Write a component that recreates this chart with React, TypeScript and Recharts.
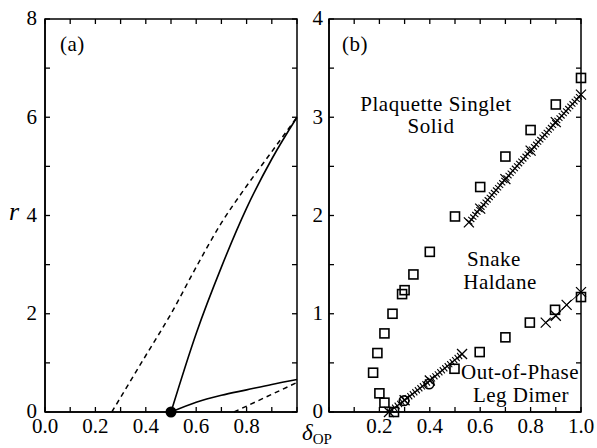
import React from "react";
import { ComposedChart, Line, Scatter, XAxis, YAxis, ReferenceArea } from "recharts";

const FONT = '"Liberation Serif", "Times New Roman", serif';

// ---- panel (a) ----
const aXTicks = [0, 0.1, 0.2, 0.3, 0.4, 0.5, 0.6, 0.7, 0.8, 0.9, 1.0];
const aXLabels = ["0.0", "0.2", "0.4", "0.6", "0.8"];
const aYTicks = [0, 1, 2, 3, 4, 5, 6, 7, 8];
const aYLabels = ["0", "2", "4", "6", "8"];

const aUpperSolidX = [0.5, 0.6, 0.7, 0.8, 0.9, 1.0];
const aUpperSolidY = [0, 1.6, 2.95, 4.15, 5.15, 6.0];
const aUpperDashX = [0.265, 0.4, 0.5, 0.6, 0.7, 0.8, 0.9, 1.0];
const aUpperDashY = [0, 1.15, 2.0, 2.95, 3.85, 4.6, 5.3, 6.0];
const aLowerSolidX = [0.5, 0.6, 0.7, 0.8, 0.9, 1.0];
const aLowerSolidY = [0, 0.2, 0.34, 0.45, 0.56, 0.66];
const aLowerDashX = [0.75, 0.875, 1.0];
const aLowerDashY = [0, 0.3, 0.6];
const aCriticalX = [0.5];
const aCriticalY = [0];

// ---- panel (b) ----
const bXTicks = [0, 0.1, 0.2, 0.3, 0.4, 0.5, 0.6, 0.7, 0.8, 0.9, 1.0];
const bXLabels = ["0.2", "0.4", "0.6", "0.8", "1.0"];
const bYTicks = [0, 0.5, 1, 1.5, 2, 2.5, 3, 3.5, 4];
const bYLabels = ["0", "1", "2", "3", "4"];

const bSquareX = [0.5, 0.4, 0.335, 0.3, 0.29, 0.252, 0.22, 0.192, 0.175, 0.2, 0.22, 0.258,
  0.498, 0.598, 0.7, 0.797, 0.897, 1.0, 0.6, 0.7, 0.8, 0.9, 1.0];
const bSquareY = [1.99, 1.63, 1.4, 1.24, 1.2, 1.0, 0.8, 0.6, 0.4, 0.19, 0.095, 0.0,
  0.44, 0.61, 0.76, 0.91, 1.04, 1.17, 2.29, 2.6, 2.87, 3.13, 3.4];
const bCircleX = [0.298, 0.397];
const bCircleY = [0.115, 0.285];

const bUpperLineX = [0.555, 0.6, 0.7, 0.8, 0.9, 1.0];
const bUpperLineY = [1.93, 2.07, 2.37, 2.66, 2.95, 3.23];
const bLowerLineX = [0.238, 0.3, 0.4, 0.528];
const bLowerLineY = [0, 0.12, 0.32, 0.59];
const bCrossX = [0.86, 0.9, 0.943, 1.0];
const bCrossY = [0.91, 0.98, 1.09, 1.22];

const zip = (xs: number[], ys: number[]) => xs.map((x, i) => ({ x, y: ys[i] }));

const TICK = 5;
const tickText = { fill: "#000", fontSize: 21, fontFamily: FONT };

const labelOf = (labels: string[], v: number) => labels.find((s) => Math.abs(parseFloat(s) - v) < 1e-6) ?? "";

// bottom ticks, mirrored on the top edge of the frame
const makeXTick = (labels: string[], top: number) => (p: any) => {
  const { x, y, payload } = p;
  return (
    <g>
      <line x1={x} x2={x} y1={y} y2={y - TICK} stroke="#000" strokeWidth={1.3} />
      <line x1={x} x2={x} y1={top} y2={top + TICK} stroke="#000" strokeWidth={1.3} />
      <text x={x} y={y + 6} dy="0.71em" textAnchor="middle" {...tickText}>
        {labelOf(labels, payload.value)}
      </text>
    </g>
  );
};

// left ticks, mirrored on the right edge of the frame
const makeYTick = (labels: string[], right: number, gap: number) => (p: any) => {
  const { x, y, payload } = p;
  return (
    <g>
      <line x1={x} x2={x + TICK} y1={y} y2={y} stroke="#000" strokeWidth={1.3} />
      <line x1={right} x2={right - TICK} y1={y} y2={y} stroke="#000" strokeWidth={1.3} />
      <text x={x - gap} y={y} dy="0.3em" textAnchor="end" {...tickText}>
        {labelOf(labels, payload.value)}
      </text>
    </g>
  );
};

const Square = (p: any) => (
  <rect x={p.cx - 4.5} y={p.cy - 4.5} width={9} height={9} fill="none" stroke="#000" strokeWidth={1.6} />
);
const Ring = (p: any) => <circle cx={p.cx} cy={p.cy} r={4.8} fill="none" stroke="#000" strokeWidth={1.6} />;
const BigDot = (p: any) => <circle cx={p.cx} cy={p.cy} r={5.5} fill="#000" />;
const Cross = (p: any) => (
  <path
    key={p.index}
    d={`M${p.cx - 5},${p.cy - 5}L${p.cx + 5},${p.cy + 5}M${p.cx - 5},${p.cy + 5}L${p.cx + 5},${p.cy - 5}`}
    stroke="#000"
    strokeWidth={1.3}
    fill="none"
  />
);

export default function App() {
  const txt = { fontFamily: FONT, fontSize: 21, fill: "#000", letterSpacing: 0.5 } as const;
  return (
    <div style={{ position: "absolute", left: 0, top: 0, width: 597, height: 448, background: "#fff" }}>
      <div style={{ position: "absolute", left: 0, top: 0 }}>
        <ComposedChart width={300} height={448} margin={{ top: 19, right: 3, bottom: 6, left: 0 }}>
          <XAxis
            type="number"
            dataKey="x"
            domain={[0, 1]}
            ticks={aXTicks}
            interval={0}
            tickSize={0}
            tickMargin={0}
            height={30}
            tick={makeXTick(aXLabels, 19)}
            axisLine={{ stroke: "#000", strokeWidth: 1.5 }}
            tickLine={false}
          />
          <YAxis
            type="number"
            dataKey="y"
            domain={[0, 8]}
            ticks={aYTicks}
            interval={0}
            tickSize={0}
            tickMargin={0}
            width={45}
            tick={makeYTick(aYLabels, 297, 8)}
            axisLine={{ stroke: "#000", strokeWidth: 1.5 }}
            tickLine={false}
          />
          <ReferenceArea x1={0} x2={1} y1={0} y2={8} fill="none" stroke="#000" strokeWidth={1.5} />
          <Line data={zip(aUpperDashX, aUpperDashY)} dataKey="y" type="monotone" stroke="#000" strokeWidth={1.5} strokeDasharray="5 4" dot={false} isAnimationActive={false} />
          <Line data={zip(aLowerDashX, aLowerDashY)} dataKey="y" type="linear" stroke="#000" strokeWidth={1.5} strokeDasharray="5 4" dot={false} isAnimationActive={false} />
          <Line data={zip(aUpperSolidX, aUpperSolidY)} dataKey="y" type="monotone" stroke="#000" strokeWidth={1.6} dot={false} isAnimationActive={false} />
          <Line data={zip(aLowerSolidX, aLowerSolidY)} dataKey="y" type="monotone" stroke="#000" strokeWidth={1.6} dot={false} isAnimationActive={false} />
          <Scatter data={zip(aCriticalX, aCriticalY)} dataKey="y" shape={BigDot} isAnimationActive={false} />
        </ComposedChart>
      </div>
      <div style={{ position: "absolute", left: 300, top: 0 }}>
        <ComposedChart width={297} height={448} margin={{ top: 19, right: 16, bottom: 6, left: 4 }}>
          <XAxis
            type="number"
            dataKey="x"
            domain={[0, 1]}
            ticks={bXTicks}
            interval={0}
            tickSize={0}
            tickMargin={0}
            height={30}
            tick={makeXTick(bXLabels, 19)}
            axisLine={{ stroke: "#000", strokeWidth: 1.5 }}
            tickLine={false}
          />
          <YAxis
            type="number"
            dataKey="y"
            domain={[0, 4]}
            ticks={bYTicks}
            interval={0}
            tickSize={0}
            tickMargin={0}
            width={25}
            tick={makeYTick(bYLabels, 281, 6)}
            axisLine={{ stroke: "#000", strokeWidth: 1.5 }}
            tickLine={false}
          />
          <ReferenceArea x1={0} x2={1} y1={0} y2={4} fill="none" stroke="#000" strokeWidth={1.5} />
          <Line data={zip(bUpperLineX, bUpperLineY)} dataKey="y" type="linear" stroke="#000" strokeWidth={8} strokeDasharray="1.1 2.1" dot={false} isAnimationActive={false} />
          <Line data={zip(bUpperLineX, bUpperLineY)} dataKey="y" type="linear" stroke="#000" strokeWidth={1.5} dot={Cross} isAnimationActive={false} />
          <Line data={zip(bLowerLineX, bLowerLineY)} dataKey="y" type="linear" stroke="#000" strokeWidth={8} strokeDasharray="1.1 2.1" dot={false} isAnimationActive={false} />
          <Line data={zip(bLowerLineX, bLowerLineY)} dataKey="y" type="linear" stroke="#000" strokeWidth={1.5} dot={Cross} isAnimationActive={false} />
          <Line data={zip(bCrossX, bCrossY)} dataKey="y" type="linear" stroke="#000" strokeWidth={1} dot={Cross} isAnimationActive={false} />
          <Scatter data={zip(bSquareX, bSquareY)} dataKey="y" shape={Square} isAnimationActive={false} />
          <Scatter data={zip(bCircleX, bCircleY)} dataKey="y" shape={Ring} isAnimationActive={false} />
        </ComposedChart>
      </div>
      <svg width={597} height={448} style={{ position: "absolute", left: 0, top: 0, pointerEvents: "none" }}>
        <text x={60} y={51} {...txt}>(a)</text>
        <text x={342} y={51} {...txt}>(b)</text>
        <text x={436} y={111} textAnchor="middle" {...txt}>Plaquette Singlet</text>
        <text x={431} y={133} textAnchor="middle" {...txt}>Solid</text>
        <text x={494} y={266} textAnchor="middle" {...txt}>Snake</text>
        <text x={500} y={289} textAnchor="middle" {...txt}>Haldane</text>
        <text x={520} y={379} textAnchor="middle" {...txt}>Out-of-Phase</text>
        <text x={521} y={402} textAnchor="middle" {...txt}>Leg Dimer</text>
        <text x={14} y={220} textAnchor="middle" fontFamily={FONT} fontSize={26} fontStyle="italic">r</text>
        <text x={302} y={440} fontFamily={FONT} fontSize={23}>
          <tspan fontStyle="italic">δ</tspan>
          <tspan fontSize={15} dy={4}>OP</tspan>
        </text>
      </svg>
    </div>
  );
}
